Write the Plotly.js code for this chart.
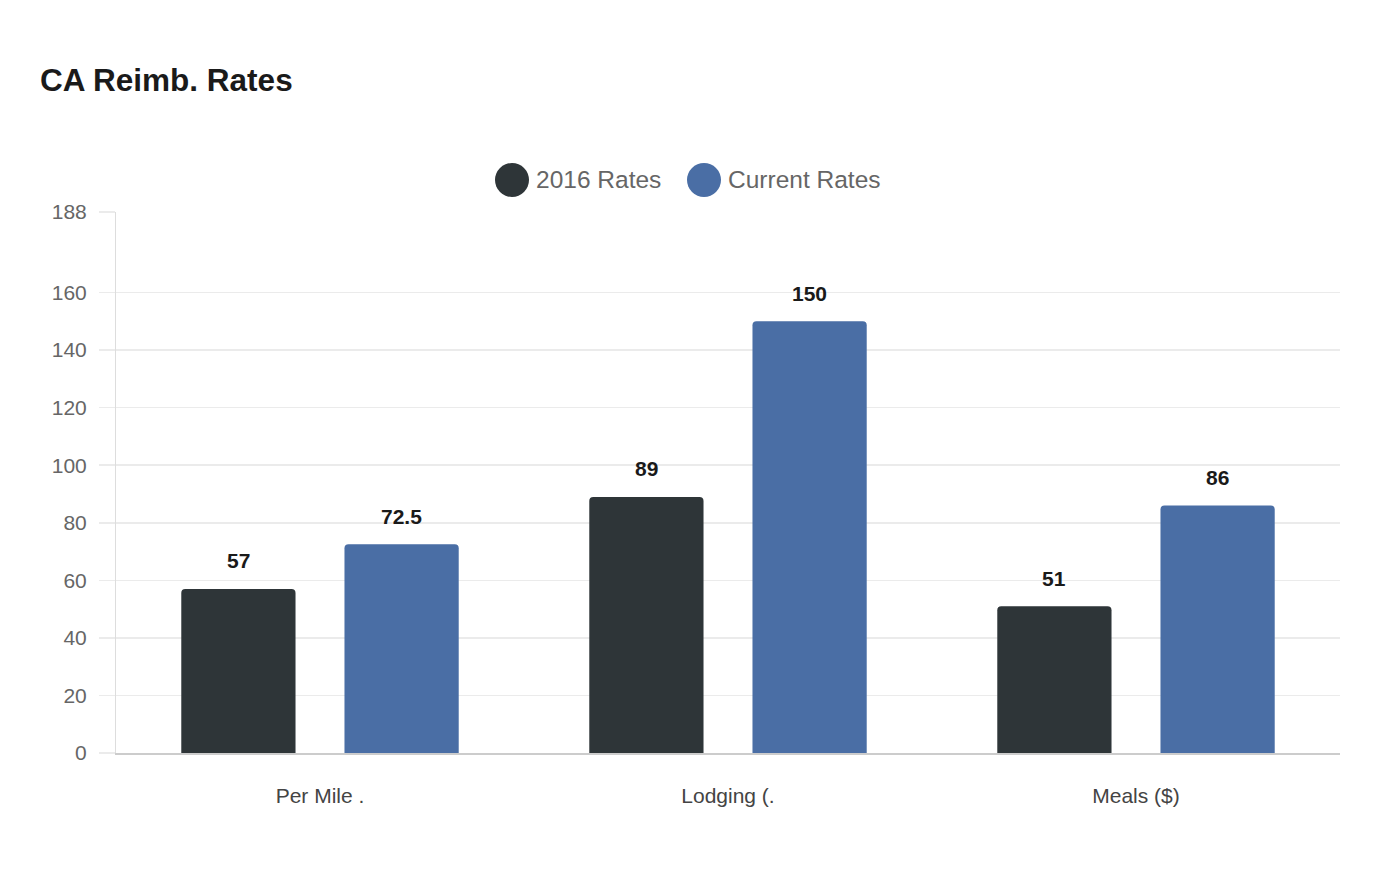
<!DOCTYPE html>
<html>
<head>
<meta charset="utf-8">
<script src="https://cdn.plot.ly/plotly-3.0.1.min.js"></script>
<style>html,body{margin:0;padding:0;background:#fff;}#chart{width:1400px;height:880px;}</style>
</head>
<body>
<div id="chart"></div>
<script>
const categories = ['Per Mile .', 'Lodging (.', 'Meals ($)'];
const seriesNames = ['2016 Rates', 'Current Rates'];
const rates2016 = [57, 89, 51];
const ratesCurrent = [72.5, 150, 86];
const yTickVals = [0, 20, 40, 60, 80, 100, 120, 140, 160, 188];
const yMax = 188;

const colors = ['#2e3538', '#4a6ea5'];
const series = [rates2016, ratesCurrent];

const W = 1400, H = 880;
const margin = {l: 116, r: 60, t: 212, b: 127};
const plotW = W - margin.l - margin.r;
const plotH = H - margin.t - margin.b;
const bargap = 0.2, bargroupgap = 0.3;
const catW = plotW / categories.length;
const slotW = catW * (1 - bargap) / series.length;
const FONT = 'Liberation Sans, Arial, sans-serif';

const traces = series.map((vals, i) => ({
  type: 'bar',
  x: categories,
  y: vals,
  name: seriesNames[i],
  marker: {color: colors[i], cornerradius: 4, line: {width: 0}},
  showlegend: false,
  hoverinfo: 'x+y'
}));

const annotations = [];
series.forEach((vals, i) => {
  const shift = (i - (series.length - 1) / 2) * slotW;
  vals.forEach((v, j) => {
    annotations.push({
      x: categories[j], y: v, xref: 'x', yref: 'y',
      text: String(v), showarrow: false,
      xshift: shift, yshift: 28, yanchor: 'middle', xanchor: 'center',
      font: {family: FONT, size: 21, color: '#1a1a1a', weight: 'bold'}
    });
  });
});

// custom legend (large circles)
const legendY = 180;
const legendItems = [{cx: 512, tx: 534}, {cx: 704, tx: 726}];
const shapes = [];
legendItems.forEach((it, i) => {
  const px = (it.cx - margin.l) / plotW;
  const py = (H - margin.b - legendY) / plotH;
  shapes.push({
    type: 'circle', xref: 'paper', yref: 'paper',
    xsizemode: 'pixel', ysizemode: 'pixel',
    xanchor: px, yanchor: py,
    x0: -17, x1: 17, y0: -17, y1: 17,
    fillcolor: colors[i], line: {width: 0}
  });
  annotations.push({
    xref: 'paper', yref: 'paper',
    x: (it.tx - margin.l) / plotW, y: py,
    xanchor: 'left', yanchor: 'middle', showarrow: false,
    text: seriesNames[i],
    font: {family: FONT, size: 24.5, color: '#666666'}
  });
});

const layout = {
  width: W, height: H,
  margin: margin,
  paper_bgcolor: '#ffffff', plot_bgcolor: '#ffffff',
  font: {family: FONT, color: '#666666'},
  title: {
    text: 'CA Reimb. Rates',
    x: 40 / W, xanchor: 'left', xref: 'container',
    y: 1 - 80 / H, yanchor: 'middle', yref: 'container',
    font: {family: FONT, size: 31.5, color: '#1a1a1a', weight: 'bold'}
  },
  barmode: 'group',
  bargap: bargap, bargroupgap: bargroupgap,
  showlegend: false,
  xaxis: {
    type: 'category',
    showgrid: false, zeroline: false,
    showline: true, linecolor: '#cccccc', linewidth: 1.5,
    ticks: '', ticklabelstandoff: 23,
    tickfont: {size: 21, color: '#444444'},
    fixedrange: true
  },
  yaxis: {
    range: [0, yMax],
    tickmode: 'array', tickvals: yTickVals, ticktext: yTickVals.map(String),
    showgrid: true, gridcolor: '#ebebeb', gridwidth: 1.5,
    zeroline: false,
    showline: true, linecolor: '#dddddd', linewidth: 1,
    ticks: 'outside', ticklen: 16, tickcolor: '#ebebeb', tickwidth: 1.5,
    ticklabelstandoff: 8,
    tickfont: {size: 21, color: '#666666'},
    fixedrange: true
  },
  annotations: annotations,
  shapes: shapes
};

Plotly.newPlot('chart', traces, layout, {displayModeBar: false, staticPlot: true});
</script>
</body>
</html>
